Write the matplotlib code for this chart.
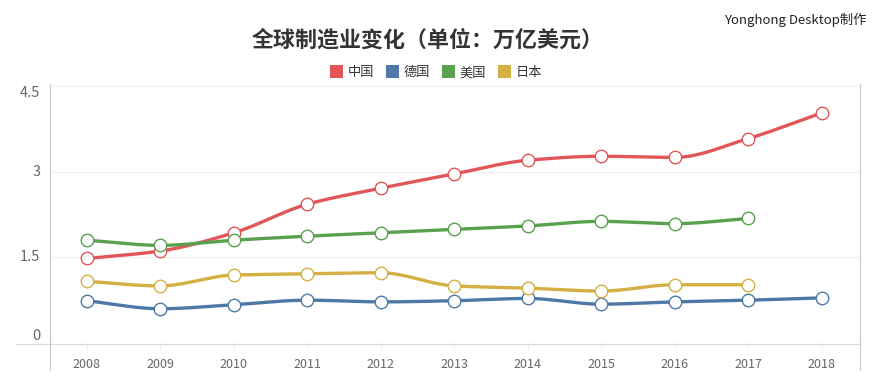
import numpy as np
import matplotlib
matplotlib.use('Agg')
import matplotlib.pyplot as plt
from matplotlib.lines import Line2D
from matplotlib.patches import Patch

plt.rcParams['font.family'] = ['Noto Sans CJK SC', 'DejaVu Sans']

# Data (trillion USD)
years = [2008, 2009, 2010, 2011, 2012, 2013, 2014, 2015, 2016, 2017, 2018]
china = [1.48, 1.61, 1.93, 2.43, 2.71, 2.96, 3.20, 3.27, 3.25, 3.58, 4.03]
germany = [0.74, 0.60, 0.67, 0.75, 0.72, 0.74, 0.78, 0.68, 0.72, 0.75, 0.79]
usa = [1.80, 1.71, 1.80, 1.87, 1.93, 1.99, 2.05, 2.13, 2.09, 2.18]
japan = [1.08, 1.00, 1.19, 1.21, 1.23, 1.00, 0.96, 0.91, 1.02, 1.02]

names = ['中国', '德国', '美国', '日本']
colors = ['#e15759', '#4e79a7', '#59a14f', '#d4b044']
series = [china, germany, usa, japan]


def smooth(x, y, n=20):
    # monotone cubic (Fritsch-Carlson) for drawing a smooth curve through points
    x = np.asarray(x, float)
    y = np.asarray(y, float)
    h = np.diff(x)
    d = np.diff(y) / h
    m = np.zeros_like(y)
    m[0], m[-1] = d[0], d[-1]
    for i in range(1, len(y) - 1):
        if d[i - 1] * d[i] <= 0:
            m[i] = 0
        else:
            w1 = 2 * h[i] + h[i - 1]
            w2 = h[i] + 2 * h[i - 1]
            m[i] = (w1 + w2) / (w1 / d[i - 1] + w2 / d[i])
    xs, ys = [], []
    for i in range(len(x) - 1):
        t = np.linspace(0, 1, n, endpoint=False)
        h00 = 2 * t**3 - 3 * t**2 + 1
        h10 = t**3 - 2 * t**2 + t
        h01 = -2 * t**3 + 3 * t**2
        h11 = t**3 - t**2
        xs.append(x[i] + t * h[i])
        ys.append(h00 * y[i] + h10 * h[i] * m[i] + h01 * y[i + 1] + h11 * h[i] * m[i + 1])
    xs.append([x[-1]])
    ys.append([y[-1]])
    return np.concatenate(xs), np.concatenate(ys)


fig = plt.figure(figsize=(8.78, 3.88), dpi=100)
W, H = 878, 388
ax = fig.add_axes([50 / W, (H - 343) / H, 810 / W, (343 - 86) / H])

for vals, c in zip(series, colors):
    xs = years[:len(vals)]
    sx, sy = smooth(xs, vals)
    ax.plot(sx, sy, color=c, lw=2.4, solid_capstyle='round', zorder=3)
    ax.plot(xs, vals, 'o', ms=9, mfc='white', mec=c, mew=1.0, zorder=4)

ax.set_xlim(2007.5, 2018.52)
ax.set_ylim(0, 4.5)
ax.set_xticks(years)
ax.set_xticklabels([str(y) for y in years], fontsize=9, color='#666666')
ax.set_yticks([0, 1.5, 3, 4.5])
ax.set_yticklabels(['0', '1.5', '3', '4.5'], fontsize=10.5, color='#666666')
for lab, va in zip(ax.get_yticklabels(), ['bottom', 'center', 'center', 'top']):
    lab.set_va(va)
ax.tick_params(axis='y', length=0, pad=7)
ax.tick_params(axis='x', length=5, color='#f0f0f0', pad=6)
for y in [1.5, 3, 4.5]:
    ax.axhline(y, color='#eeeeee', lw=0.8, zorder=1)
for s in ax.spines.values():
    s.set_visible(False)

# frame lines
fig.add_artist(Line2D([16 / W, 860 / W], [(H - 344) / H] * 2, color='#d9d9d9', lw=0.9))
fig.add_artist(Line2D([50.5 / W] * 2, [(H - 84) / H, (H - 370) / H], color='#cccccc', lw=0.9))
fig.add_artist(Line2D([860 / W] * 2, [(H - 84) / H, (H - 370) / H], color='#cccccc', lw=0.9))

fig.text(428 / W, (H - 40) / H, '全球制造业变化（单位：万亿美元）', ha='center', va='center',
         fontsize=15.8, fontweight='bold', color='#333333')
fig.text(866 / W, (H - 20) / H, 'Yonghong Desktop制作', ha='right', va='center',
         fontsize=9.5, color='#222222')

handles = [Patch(facecolor=c, edgecolor='none') for c in colors]
fig.legend(handles, names, loc='center', bbox_to_anchor=(436 / W, (H - 72) / H), ncol=4,
           frameon=False, fontsize=9.5, handlelength=1.0, handleheight=1.2,
           handletextpad=0.35, columnspacing=0.9, labelcolor='#333333')

fig.savefig('out.png', dpi=100)
